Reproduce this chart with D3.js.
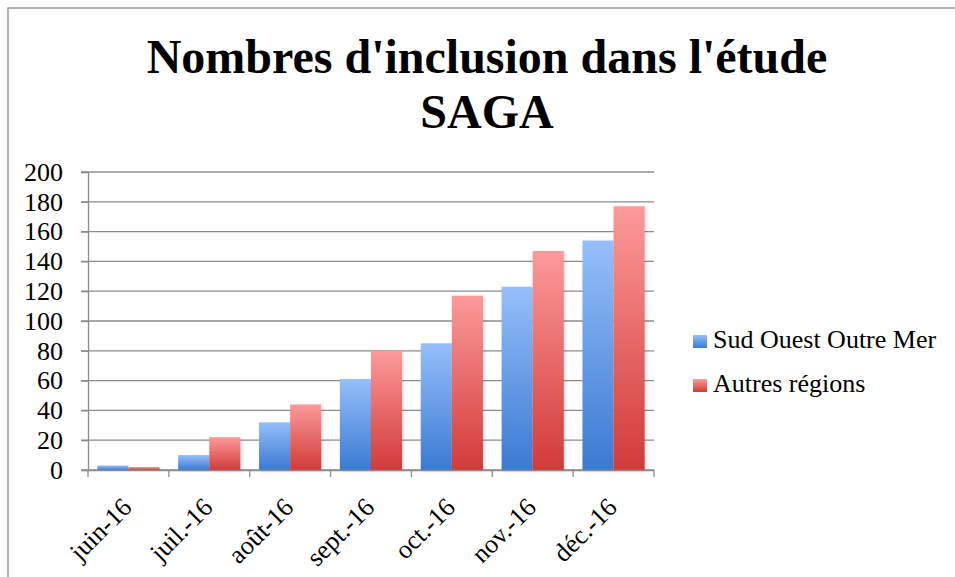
<!DOCTYPE html>
<html><head><meta charset="utf-8">
<script src="https://cdn.jsdelivr.net/npm/d3@7"></script>
<style>html,body{margin:0;padding:0;background:#fff;}svg{display:block;}</style>
</head><body>
<svg id="c" width="955" height="577"></svg>
<script>
const months = ["juin-16","juil.-16","août-16","sept.-16","oct.-16","nov.-16","déc.-16"];
const sudOuest = [3, 10, 32, 61, 85, 123, 154];
const autres = [2, 22, 44, 80, 117, 147, 177];
const seriesNames = ["Sud Ouest Outre Mer", "Autres régions"];
const yTicks = [0,20,40,60,80,100,120,140,160,180,200];
const titleLines = ["Nombres d'inclusion dans l'étude", "SAGA"];

const svg = d3.select("#c");
const font = "'Liberation Serif','Times New Roman',serif";
const fs = 26;

// frame
svg.append("rect").attr("x",8).attr("y",8).attr("width",1000).attr("height",1000)
  .attr("fill","none").attr("stroke","#9a9a9a").attr("stroke-width",1.5);

const defs = svg.append("defs");
const grads = [["gb","#95bff9","#3a7ad3"],["gr","#fc9a9a","#d13a38"]];
grads.forEach(([id,top,bot])=>{
  const g = defs.append("linearGradient").attr("id",id).attr("x1",0).attr("y1",0).attr("x2",0).attr("y2",1);
  g.append("stop").attr("offset","0%").attr("stop-color",top);
  g.append("stop").attr("offset","100%").attr("stop-color",bot);
});
const f = defs.append("filter").attr("id","sh").attr("x","-30%").attr("y","-10%").attr("width","160%").attr("height","120%");
f.append("feDropShadow").attr("dx",1.5).attr("dy",1.5).attr("stdDeviation",1.5).attr("flood-color","#000").attr("flood-opacity",0.15);

const x0 = d3.scaleBand().domain(months).range([88,654]).paddingInner(0).paddingOuter(0);
const x1 = d3.scaleBand().domain([0,1]).range([0,x0.bandwidth()]).paddingInner(0).paddingOuter(0.3);
const y = d3.scaleLinear().domain([0,200]).range([470,172]);

// gridlines
svg.append("g").selectAll("line").data(yTicks).join("line")
  .attr("x1",81).attr("x2",654).attr("y1",d=>y(d)).attr("y2",d=>y(d))
  .attr("stroke","#8c8c8c").attr("stroke-width",1.3);

// y axis
const yAxis = svg.append("g").attr("transform","translate(88,0)")
  .call(d3.axisLeft(y).tickValues(yTicks).tickSize(7).tickPadding(18));
yAxis.select(".domain").attr("stroke","#8c8c8c").attr("stroke-width",1.3);
yAxis.selectAll(".tick line").attr("stroke","#8c8c8c").attr("stroke-width",1.3);
yAxis.selectAll("text").attr("font-family",font).attr("font-size",fs).attr("fill","#000");

// bars
const data = months.map((m,i)=>({m, vals:[sudOuest[i], autres[i]]}));
const groups = svg.append("g").selectAll("g").data(data).join("g")
  .attr("transform",d=>`translate(${x0(d.m)},0)`);
groups.selectAll("rect").data(d=>d.vals.map((v,k)=>({v,k}))).join("rect")
  .attr("x",d=>x1(d.k)).attr("width",x1.bandwidth())
  .attr("y",d=>y(d.v)).attr("height",d=>y(0)-y(d.v))
  .attr("fill",d=>d.k===0?"url(#gb)":"url(#gr)")
  .attr("filter","url(#sh)");

// x axis
const xAxis = svg.append("g").attr("transform","translate(0,470)")
  .call(d3.axisBottom(x0).tickSize(0).tickFormat(""));
xAxis.select(".domain").attr("stroke","#8c8c8c").attr("stroke-width",1.3);
const tickXs = months.map(m=>x0(m)).concat([654]);
svg.append("g").selectAll("line").data(tickXs).join("line")
  .attr("x1",d=>d).attr("x2",d=>d).attr("y1",470).attr("y2",477)
  .attr("stroke","#8c8c8c").attr("stroke-width",1.3);
svg.append("g").selectAll("text").data(months).join("text")
  .attr("transform",d=>`translate(${x0(d)+x0.bandwidth()/2-8},496) rotate(-45)`)
  .attr("text-anchor","end").attr("dy","0.7em")
  .attr("font-family",font).attr("font-size",fs).attr("fill","#000")
  .text(d=>d);

// title
svg.append("g").selectAll("text").data(titleLines).join("text")
  .attr("x",487).attr("y",(d,i)=>73+i*55)
  .attr("text-anchor","middle").attr("font-family",font).attr("font-weight","bold")
  .attr("font-size",48).attr("fill","#000").text(d=>d);

// legend
const lg = svg.append("g").selectAll("g").data(seriesNames).join("g")
  .attr("transform",(d,i)=>`translate(693,${335+i*44})`);
lg.append("rect").attr("width",14).attr("height",13)
  .attr("fill",(d,i)=>i===0?"url(#gb)":"url(#gr)");
lg.append("text").attr("x",20).attr("y",13).attr("font-family",font).attr("font-size",fs).attr("fill","#000").text(d=>d);
</script>
</body></html>
